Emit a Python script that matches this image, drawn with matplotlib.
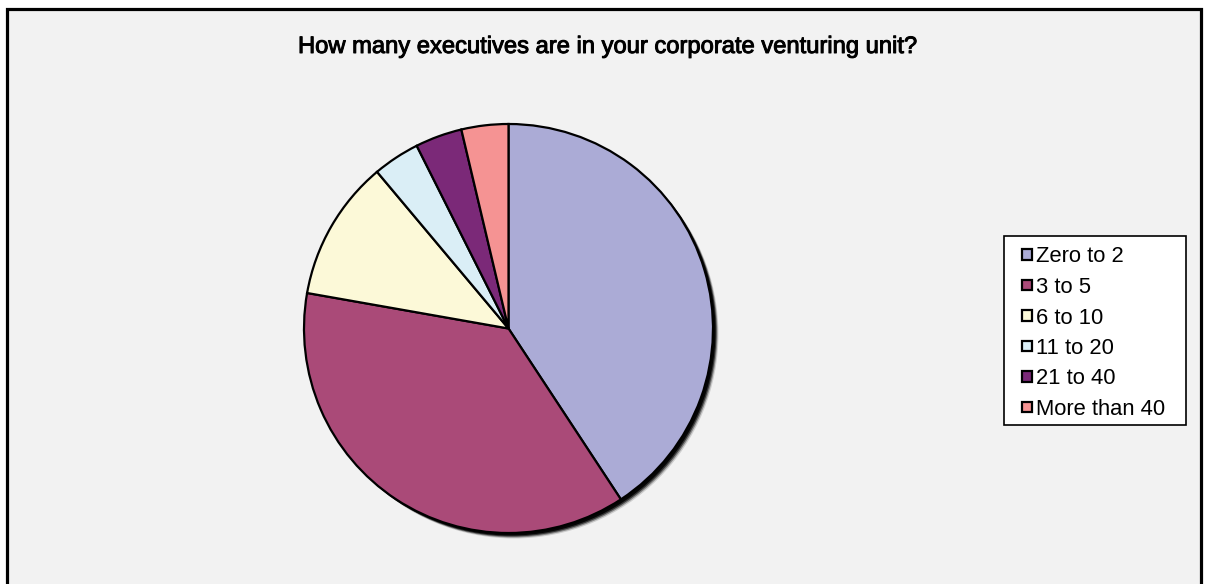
import matplotlib
matplotlib.use("Agg")
import matplotlib.pyplot as plt
import matplotlib.patheffects as pe
from matplotlib.patches import Rectangle, Circle

plt.rcParams['font.family'] = ['Liberation Sans', 'DejaVu Sans']

# Survey responses: number of executives per corporate venturing unit
categories = ["Zero to 2", "3 to 5", "6 to 10", "11 to 20", "21 to 40", "More than 40"]
counts = [11, 10, 3, 1, 1, 1]
colors = ["#ABABD6", "#AA4A78", "#FCF9D8", "#DAEEF6", "#7B2978", "#F59393"]
title = "How many executives are in your corporate venturing unit?"

W, H = 1205, 584
fig = plt.figure(figsize=(W / 100, H / 100), dpi=100)
fig.patch.set_facecolor("white")

# one axes spanning the canvas, measured in pixels (y upwards)
ax = fig.add_axes([0, 0, 1, 1])

# chart area: light grey panel with a heavy black border (runs past the bottom edge)
ax.add_patch(Rectangle((6.5, -6), 1200.5 - 6.5, (H - 8.5) + 6,
                       facecolor="#F2F2F2", edgecolor="black", linewidth=2.3, zorder=1))

cx, cy, r = 508.5, H - 328.5, 204.5

# soft drop shadow beneath the pie
for off, a in [(5.5, 0.15), (4.5, 0.35), (3.5, 0.6), (2.5, 0.9)]:
    ax.add_patch(Circle((cx + off, cy - off), r, facecolor="black", edgecolor="none",
                        alpha=a, zorder=2))

wedges, _ = ax.pie(counts, colors=colors, startangle=90, counterclock=False,
                   center=(cx, cy), radius=r, frame=True,
                   wedgeprops=dict(edgecolor="black", linewidth=1.6))
for w in wedges:
    w.set_zorder(3)

ax.set_xlim(0, W)
ax.set_ylim(0, H)
ax.set_aspect("equal")
ax.set_axis_off()

ax.text(607.5, H - 47, title, ha="center", va="center", fontsize=17.1,
        color="black", zorder=5,
        path_effects=[pe.withStroke(linewidth=0.7, foreground="black")])

# legend box with square swatches
lx0, lx1, ly_top, ly_bot = 1003.5, 1186, 235.5, 424.5
ax.add_patch(Rectangle((lx0, H - ly_bot), lx1 - lx0, ly_bot - ly_top,
                       facecolor="white", edgecolor="black", linewidth=1.2, zorder=4))
row0, row_step, sw = 254.5, 30.5, 10.5
for i, (lab, c) in enumerate(zip(categories, colors)):
    yc = H - (row0 + i * row_step)
    ax.add_patch(Rectangle((1027 - sw / 2, yc - sw / 2), sw, sw, facecolor=c,
                           edgecolor="black", linewidth=1.6, zorder=5))
    ax.text(1036.5, yc, lab, ha="left", va="center_baseline", fontsize=15.8,
            color="black", zorder=5)

fig.savefig("out.png", dpi=100, facecolor=fig.get_facecolor())
